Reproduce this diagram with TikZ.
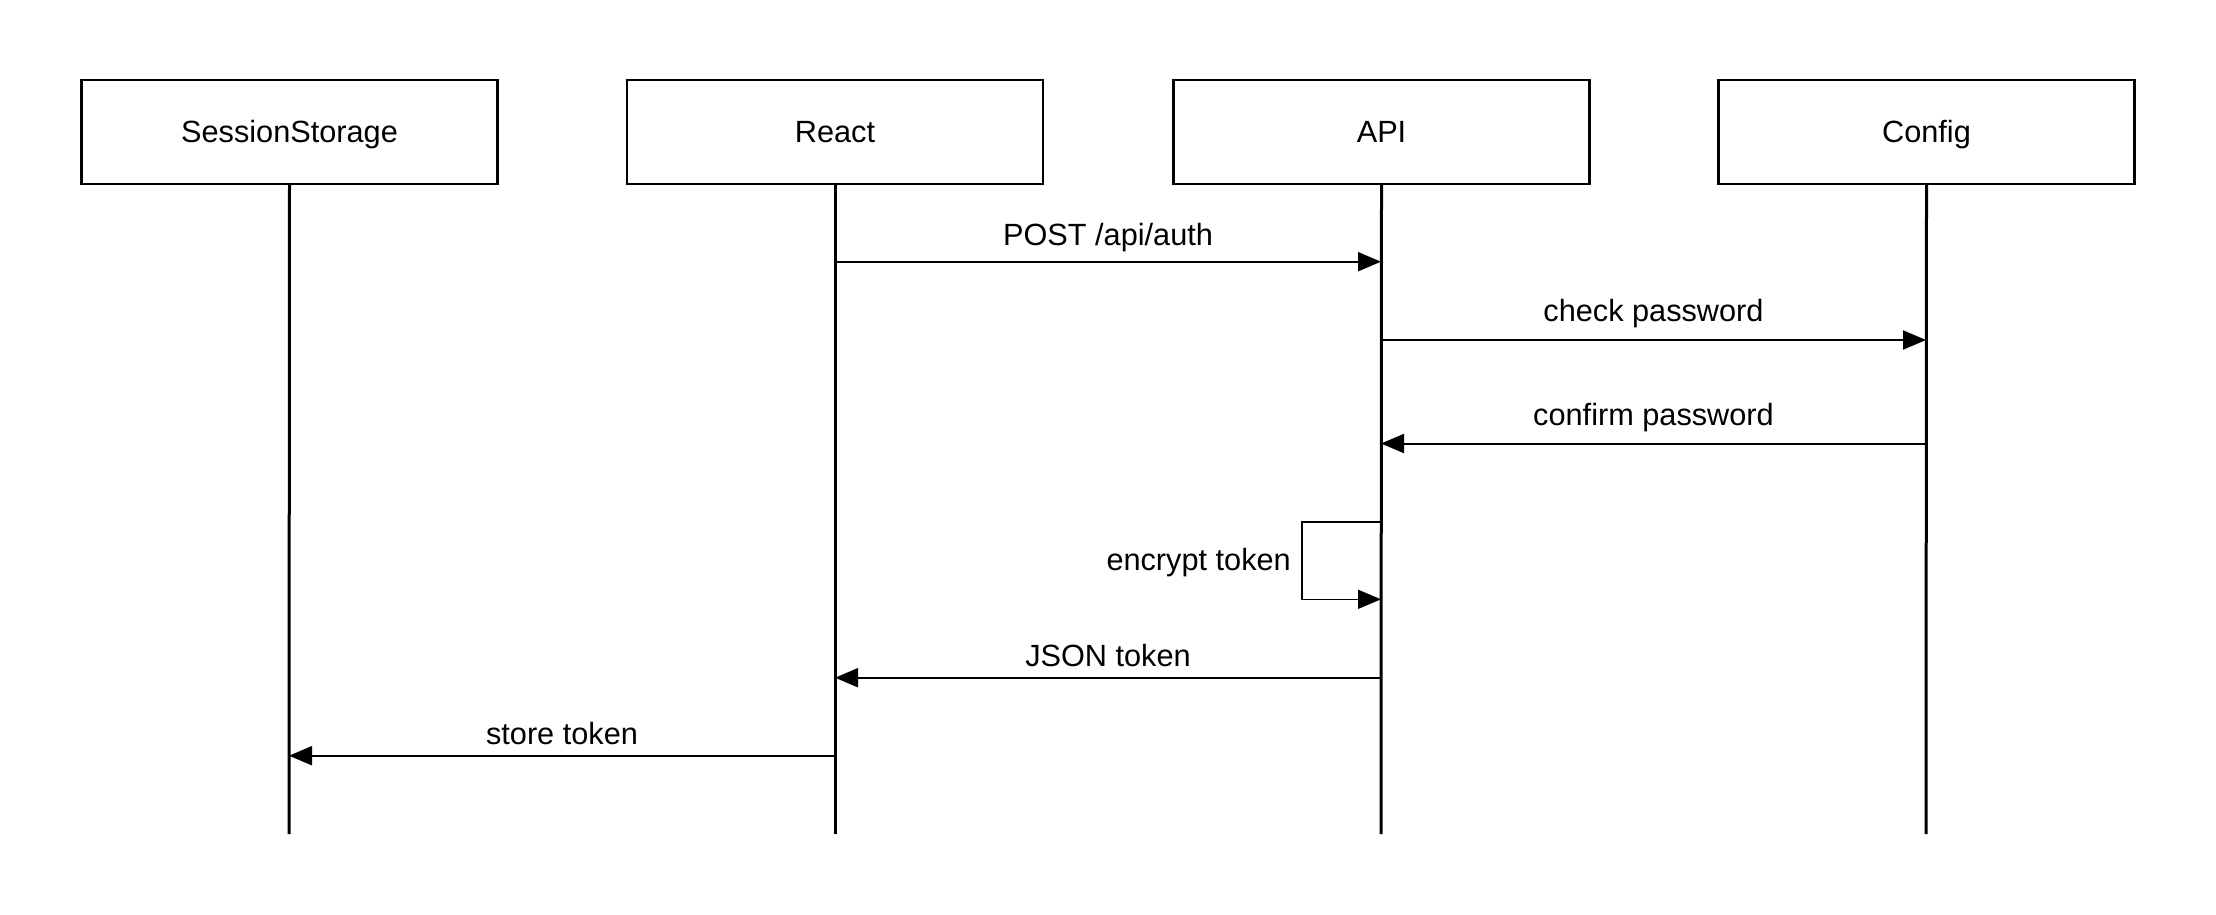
\documentclass[tikz,border=0pt]{standalone}
\usepackage{fontspec}
\setmainfont{Liberation Sans}
\usetikzlibrary{arrows.meta}
\begin{document}
\begin{tikzpicture}[x=1pt,y=-1pt,
  actor/.style={draw=black, line width=2.4pt, minimum width=416pt, minimum height=103.5pt, inner sep=0pt, text height=22pt, text depth=1.5pt, font=\fontsize{30.7}{36}\selectfont},
  life/.style={line width=3pt},
  msg/.style={line width=2pt, -{Triangle[length=23pt,width=19pt]}},
  loopline/.style={line width=1.6pt, -{Triangle[length=23pt,width=19pt]}},
  lbl/.style={font=\fontsize{30.7}{36}\selectfont, anchor=base, inner sep=0pt}
]
\useasboundingbox (0,0) rectangle (2216,914);
\fill[white] (0,0) rectangle (2216,914);

\node[actor] (ss) at (289.5,132) {SessionStorage};
\node[actor] (re) at (835,132) {React};
\node[actor] (api) at (1381.5,132) {API};
\node[actor] (cf) at (1926.5,132) {Config};

\coordinate (ssb) at (289,834);
\coordinate (reb) at (835,834);
\coordinate (apib) at (1381,834);
\coordinate (cfb) at (1926,834);
\draw[life] (ss.south) -- (ssb);
\draw[life] (re.south) -- (reb);
\draw[life] (api.south) -- (apib);
\draw[life] (cf.south) -- (cfb);

\coordinate (m1) at (0,261.7);
\coordinate (m2) at (0,340);
\coordinate (m3) at (0,443.5);
\coordinate (m4a) at (0,522);
\coordinate (m4b) at (0,599.3);
\coordinate (m5) at (0,677.7);
\coordinate (m6) at (0,755.7);

\draw[msg] (reb |- m1) -- node[lbl, yshift=16pt] (l1) {POST /api/auth} (apib |- m1);
\draw[msg] (apib |- m2) -- node[lbl, yshift=18.3pt] (l2) {check password} (cfb |- m2);
\draw[msg] (cfb |- m3) -- node[lbl, yshift=18.3pt] (l3) {confirm password} (apib |- m3);
\coordinate (loopl) at (1302,0);
\draw[loopline] (apib |- m4a) -- (loopl |- m4a) -- (loopl |- m4b) -- (apib |- m4b);
\node[lbl, anchor=base east] (l4) at (1291,570) {encrypt token};
\draw[msg] (apib |- m5) -- node[lbl, yshift=11.7pt] (l5) {JSON token} (reb |- m5);
\draw[msg] (reb |- m6) -- node[lbl, yshift=11.4pt] (l6) {store token} (ssb |- m6);
\end{tikzpicture}
\end{document}
